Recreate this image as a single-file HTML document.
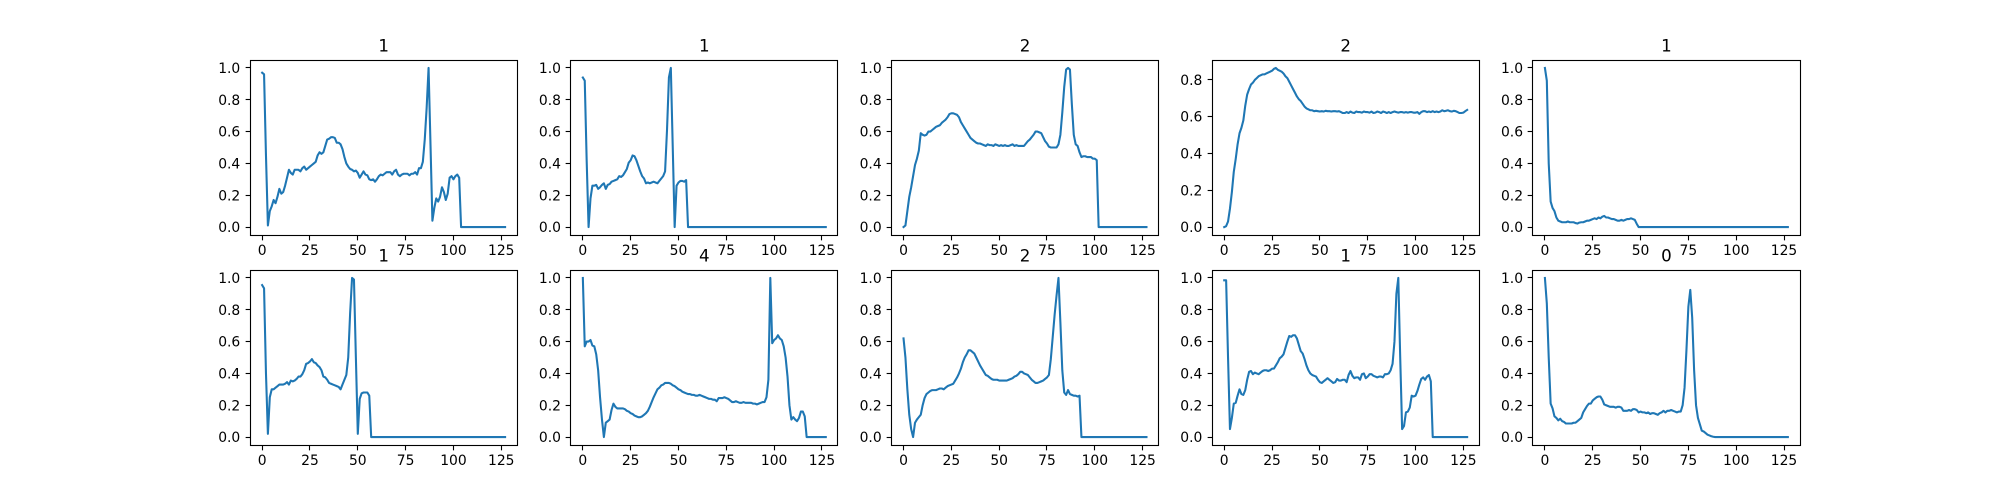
<!DOCTYPE html>
<html lang="en">
<head>
<meta charset="utf-8">
<title>Signal panels</title>
<style>
html,body{margin:0;padding:0;background:#fff;}
body{width:2000px;height:500px;overflow:hidden;}
svg{display:block;}
text{font-family:"DejaVu Sans",sans-serif;fill:#000;}
</style>
</head>
<body>
<svg id="figure" xmlns="http://www.w3.org/2000/svg" width="2000" height="500" viewBox="0 0 2000 500"></svg>
<script>
const panelTitles = ["1","1","2","2","1","1","4","2","1","0"];
const xTickValues = [0,25,50,75,100,125];
const yTickValues = [0,0.2,0.4,0.6,0.8,1];
const yTickLabels = ["0.0","0.2","0.4","0.6","0.8","1.0"];

const series1 = [
.97,.96,.45,.01,.10,.13,.17,.15,.19,.24,
.21,.22,.26,.31,.36,.34,.33,.36,.36,.36,
.35,.37,.38,.36,.37,.38,.39,.40,.41,.45,
.47,.46,.47,.51,.55,.555,.565,.565,.56,.53,
.53,.52,.49,.44,.40,.38,.365,.36,.35,.355,
.34,.31,.33,.35,.33,.325,.30,.295,.30,.285,
.30,.32,.33,.325,.335,.345,.345,.345,.33,.35,
.36,.33,.32,.33,.335,.335,.335,.325,.335,.335,
.345,.33,.37,.37,.41,.55,.75,1.0,.52,.04,
.12,.18,.16,.19,.25,.22,.17,.21,.31,.32,
.30,.32,.33,.31,0,0,0,0,0,0,
0,0,0,0,0,0,0,0,0,0,
0,0,0,0,0,0,0,0];
const series2 = [
.94,.92,.42,0,.18,.26,.26,.265,.24,.25,
.265,.275,.24,.265,.27,.285,.29,.295,.30,.32,
.315,.325,.345,.365,.405,.42,.45,.445,.42,.385,
.35,.32,.305,.275,.28,.275,.28,.285,.28,.275,
.29,.305,.32,.35,.61,.94,1.0,.50,0,.26,
.28,.29,.29,.285,.295,0,0,0,0,0,
0,0,0,0,0,0,0,0,0,0,
0,0,0,0,0,0,0,0,0,0,
0,0,0,0,0,0,0,0,0,0,
0,0,0,0,0,0,0,0,0,0,
0,0,0,0,0,0,0,0,0,0,
0,0,0,0,0,0,0,0,0,0,
0,0,0,0,0,0,0,0];
const series3 = [
0,.01,.10,.19,.25,.32,.39,.43,.48,.59,
.58,.575,.58,.60,.60,.61,.62,.63,.635,.64,
.655,.665,.675,.69,.71,.715,.715,.71,.705,.69,
.66,.64,.62,.60,.58,.56,.55,.54,.53,.525,
.525,.52,.515,.51,.52,.515,.515,.51,.52,.515,
.51,.515,.51,.515,.51,.51,.515,.52,.51,.515,
.51,.51,.51,.51,.525,.54,.55,.565,.58,.60,
.60,.595,.59,.565,.54,.525,.505,.50,.50,.50,
.50,.52,.58,.72,.88,.99,1.0,.99,.77,.58,
.52,.51,.47,.44,.445,.445,.44,.44,.44,.43,
.43,.42,0,0,0,0,0,0,0,0,
0,0,0,0,0,0,0,0,0,0,
0,0,0,0,0,0,0,0];
const series4 = [
0,.005,.03,.10,.19,.30,.37,.45,.51,.54,
.58,.66,.72,.75,.775,.785,.80,.81,.82,.825,
.83,.83,.835,.84,.845,.85,.86,.865,.855,.85,
.845,.835,.82,.81,.79,.77,.75,.73,.71,.695,
.685,.67,.655,.645,.64,.635,.635,.63,.632,.63,
.628,.63,.628,.632,.63,.63,.628,.63,.63,.628,
.63,.625,.62,.62,.625,.62,.628,.622,.62,.628,
.625,.625,.622,.628,.625,.625,.622,.628,.62,.622,
.628,.625,.62,.628,.625,.62,.625,.62,.625,.628,
.625,.622,.625,.625,.622,.625,.622,.625,.625,.622,
.622,.625,.615,.625,.63,.63,.625,.628,.625,.63,
.625,.628,.625,.628,.635,.63,.632,.635,.63,.628,
.632,.63,.625,.62,.62,.622,.63,.637];
const series5 = [
1.0,.92,.40,.16,.12,.10,.06,.04,.035,.03,
.03,.03,.035,.03,.03,.03,.025,.022,.028,.03,
.03,.035,.04,.04,.045,.05,.055,.05,.06,.055,
.065,.07,.06,.06,.055,.05,.05,.045,.04,.04,
.045,.04,.045,.05,.05,.055,.05,.045,.02,0,
0,0,0,0,0,0,0,0,0,0,
0,0,0,0,0,0,0,0,0,0,
0,0,0,0,0,0,0,0,0,0,
0,0,0,0,0,0,0,0,0,0,
0,0,0,0,0,0,0,0,0,0,
0,0,0,0,0,0,0,0,0,0,
0,0,0,0,0,0,0,0,0,0,
0,0,0,0,0,0,0,0];
const series6 = [
.955,.935,.40,.02,.25,.30,.30,.31,.32,.33,
.33,.33,.335,.345,.33,.355,.35,.355,.365,.38,
.38,.395,.42,.46,.465,.475,.49,.47,.465,.45,
.44,.42,.38,.375,.36,.34,.335,.33,.325,.32,
.315,.30,.33,.36,.39,.50,.78,1.0,.99,.50,
.02,.24,.275,.28,.28,.28,.26,0,0,0,
0,0,0,0,0,0,0,0,0,0,
0,0,0,0,0,0,0,0,0,0,
0,0,0,0,0,0,0,0,0,0,
0,0,0,0,0,0,0,0,0,0,
0,0,0,0,0,0,0,0,0,0,
0,0,0,0,0,0,0,0,0,0,
0,0,0,0,0,0,0,0];
const series7 = [
1.0,.57,.60,.60,.61,.575,.57,.52,.42,.25,
.11,0,.09,.10,.11,.17,.21,.19,.18,.18,
.18,.18,.175,.165,.16,.15,.145,.135,.13,.125,
.125,.13,.14,.15,.165,.19,.22,.25,.275,.30,
.31,.325,.33,.34,.34,.34,.335,.325,.32,.31,
.30,.295,.285,.28,.275,.27,.27,.265,.265,.26,
.26,.265,.26,.255,.25,.245,.24,.24,.235,.235,
.225,.245,.245,.245,.25,.245,.24,.23,.22,.22,
.225,.22,.215,.215,.22,.215,.215,.215,.215,.21,
.21,.205,.21,.215,.22,.22,.25,.36,1.0,.59,
.61,.62,.64,.62,.61,.57,.50,.38,.20,.11,
.125,.11,.10,.12,.16,.16,.13,0,0,0,
0,0,0,0,0,0,0,0];
const series8 = [
.62,.50,.30,.14,.05,0,.09,.11,.125,.14,
.20,.245,.27,.28,.29,.295,.295,.295,.30,.305,
.305,.30,.31,.32,.325,.33,.335,.355,.375,.40,
.43,.47,.50,.52,.545,.545,.535,.525,.50,.475,
.45,.43,.41,.39,.385,.375,.365,.36,.36,.36,
.355,.355,.355,.355,.355,.36,.365,.37,.38,.385,
.395,.41,.41,.40,.395,.39,.375,.36,.35,.34,
.34,.345,.35,.355,.365,.375,.39,.49,.63,.77,
.89,1.0,.72,.42,.28,.265,.295,.27,.265,.26,
.26,.255,.26,0,0,0,0,0,0,0,
0,0,0,0,0,0,0,0,0,0,
0,0,0,0,0,0,0,0,0,0,
0,0,0,0,0,0,0,0];
const series9 = [
.985,.985,.50,.05,.12,.21,.215,.26,.30,.27,
.265,.295,.36,.41,.415,.395,.405,.40,.395,.405,
.415,.42,.42,.415,.42,.43,.43,.45,.47,.495,
.505,.52,.56,.60,.635,.63,.64,.64,.62,.58,
.54,.525,.49,.45,.42,.40,.39,.385,.38,.36,
.345,.34,.35,.36,.37,.36,.35,.34,.345,.365,
.355,.355,.36,.36,.345,.39,.415,.385,.37,.375,
.375,.36,.395,.40,.37,.38,.395,.395,.385,.38,
.375,.38,.38,.375,.395,.395,.40,.42,.46,.60,
.90,1.0,.50,.05,.07,.155,.16,.185,.26,.255,
.26,.29,.33,.365,.375,.36,.38,.39,.35,0,
0,0,0,0,0,0,0,0,0,0,
0,0,0,0,0,0,0,0];
const series10 = [
1.0,.84,.50,.21,.18,.13,.12,.105,.115,.10,
.095,.085,.085,.085,.085,.09,.09,.10,.11,.12,
.155,.175,.195,.21,.21,.23,.24,.25,.255,.255,
.235,.205,.20,.195,.19,.19,.19,.185,.19,.19,
.185,.165,.165,.165,.17,.165,.175,.175,.17,.155,
.16,.155,.155,.15,.155,.145,.15,.15,.145,.14,
.15,.155,.165,.155,.165,.165,.17,.165,.16,.155,
.16,.16,.20,.31,.55,.82,.925,.75,.42,.20,
.12,.08,.04,.035,.025,.015,.01,.005,.002,0,
0,0,0,0,0,0,0,0,0,0,
0,0,0,0,0,0,0,0,0,0,
0,0,0,0,0,0,0,0,0,0,
0,0,0,0,0,0,0,0];
const allSeries = [series1,series2,series3,series4,series5,series6,series7,series8,series9,series10];

const NS = "http://www.w3.org/2000/svg";
const svg = document.getElementById("figure");
const FIG_LEFT = 250, FIG_TOP = 60, AX_W = 267.24, AX_H = 175, STEP_X = 320.69, STEP_Y = 210;
const TICK = 4.86, PAD = 9.72;

function make(tag, parent, props) {
  const el = document.createElementNS(NS, tag);
  for (const k in props) el.setAttribute(k, props[k]);
  parent.appendChild(el);
  return el;
}
function snap(v) { return Math.round(v - 0.5) + 0.5; }

allSeries.forEach(function (values, p) {
  const col = p % 5, row = Math.floor(p / 5);
  const L = FIG_LEFT + col * STEP_X, T = FIG_TOP + row * STEP_Y;
  const R = L + AX_W, B = T + AX_H;

  const xMax = values.length - 1;
  const xPad = xMax * 0.05;
  const x = function (v) { return L + (v + xPad) / (xMax + 2 * xPad) * AX_W; };
  const lo = Math.min.apply(null, values), hi = Math.max.apply(null, values);
  const yPad = (hi - lo) * 0.05;
  const y = function (v) { return B - (v - lo + yPad) / (hi - lo + 2 * yPad) * AX_H; };

  const g = make("g", svg, {});
  
  

  const pts = values.map(function (v, i) { return x(i).toFixed(2) + "," + y(v).toFixed(2); }).join(" ");
  const line = make("polyline", g, {points: pts, fill: "none", stroke: "#1f77b4", "stroke-width": 2.08, "stroke-linejoin": "round", "stroke-linecap": "square"});
  
  

  const frame = make("rect", g, {x: snap(L), y: snap(T), width: snap(R) - snap(L), height: snap(B) - snap(T), fill: "none", stroke: "#000", "stroke-width": 1.11});
  
  

  xTickValues.forEach(function (v) {
    const px = snap(x(v));
    const tick = make("line", g, {x1: px, x2: px, y1: snap(B), y2: snap(B) + TICK, stroke: "#000", "stroke-width": 1.11});
    
    
    const label = make("text", g, {x: x(v), y: B + PAD + 10.2, "font-size": 13.89, "text-anchor": "middle"});
    label.textContent = String(v);
    
    
  });

  yTickValues.forEach(function (v, i) {
    if (v < lo - yPad || v > hi + yPad) return;
    const py = snap(y(v));
    const tick = make("line", g, {x1: snap(L), x2: snap(L) - TICK, y1: py, y2: py, stroke: "#000", "stroke-width": 1.11});
    
    
    const label = make("text", g, {x: L - PAD, y: y(v) + 5.05, "font-size": 13.89, "text-anchor": "end"});
    label.textContent = yTickLabels[i];
    
    
  });

  const title = make("text", g, {x: L + AX_W / 2, y: T - 8.33, "font-size": 16.67, "text-anchor": "middle"});
  title.textContent = panelTitles[p];
  
  
});
</script>
</body>
</html>
